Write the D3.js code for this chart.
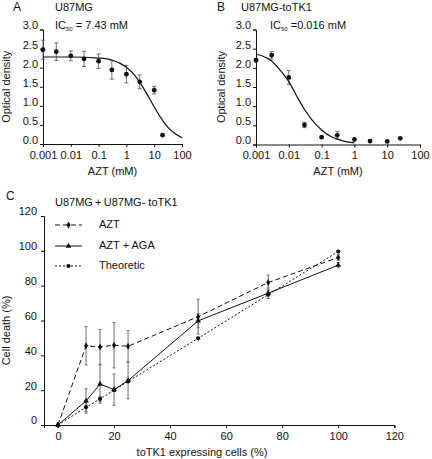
<!DOCTYPE html>
<html><head><meta charset="utf-8">
<script src="https://cdn.jsdelivr.net/npm/d3@7"></script>
<style>body{margin:0;background:#fff}svg{display:block;font-family:"Liberation Sans",Arial,sans-serif}</style>
</head><body><svg id="c" width="432" height="459"></svg>
<script>
// ---- Panel A data (U87MG) ----
const concA = [0.001, 0.003, 0.01, 0.03, 0.1, 0.3, 1, 3, 10, 20];
const odA = [2.47, 2.42, 2.31, 2.23, 2.17, 1.94, 1.83, 1.63, 1.41, 0.23];
const errA = [0.25, 0.23, 0.13, 0.2, 0.19, 0.24, 0.23, 0.18, 0.1, 0];
const fitXA = [0.001, 0.01, 0.1, 0.3, 1, 2, 3, 5, 7.43, 10, 20, 30, 50, 100];
const fitYA = [2.28, 2.28, 2.25, 2.2, 2.01, 1.8, 1.62, 1.36, 1.14, 0.97, 0.62, 0.45, 0.3, 0.16];
// ---- Panel B data (U87MG-toTK1) ----
const concB = [0.001, 0.003, 0.01, 0.03, 0.1, 0.3, 1, 3, 10, 25];
const odB = [2.2, 2.33, 1.75, 0.51, 0.19, 0.24, 0.13, 0.09, 0.08, 0.16];
const errB = [0.05, 0.1, 0.18, 0.07, 0, 0.1, 0, 0.04, 0, 0];
const fitXB = [0.001, 0.002, 0.003, 0.005, 0.01, 0.02, 0.03, 0.05, 0.1, 0.2, 0.3, 0.5, 1];
const fitYB = [2.36, 2.27, 2.18, 1.98, 1.64, 1.17, 0.92, 0.65, 0.38, 0.2, 0.14, 0.08, 0.04];
const logTickLabels = ["0.001", "0.01", "0.1", "1", "10", "100"];
const odTicks = [0, 0.5, 1, 1.5, 2, 2.5, 3];
// ---- Panel C data ----
const pctCells = [0, 10, 15, 20, 25, 50, 75, 100];
const deathAZT = [0, 45.5, 44.8, 45.8, 45.2, 62.2, 81.8, 96.2];
const errAZT = [0, 11, 10, 13, 9, 10, 4.3, 1.5];
const deathAGA = [0, 13.8, 23.5, 20.3, 25.5, 59.8, 75.7, 91.8];
const errAGA = [0, 7, 11, 9, 10.5, 4, 3, 1.5];
const deathTheo = [0, 10.2, 15, 20, 25, 49.8, 74.8, 99.6];
const errTheo = [0, 2.5, 1.5, 0, 0, 0, 0, 0];
const cXTicks = [0, 20, 40, 60, 80, 100, 120];
const cYTicks = [0, 20, 40, 60, 80, 100, 120];
const seriesNames = ["AZT", "AZT + AGA", "Theoretic"];

const svg = d3.select("#c");
const FS = 11;
const errCol = "#6e6e6e";

function text(x, y, t, opts = {}) {
  return svg.append("text").attr("x", x).attr("y", y).text(t)
    .attr("font-size", opts.size || FS).attr("fill", "#111")
    .attr("text-anchor", opts.anchor || "start")
    .attr("dominant-baseline", "middle");
}

function doseePanel(o) {
  const x = d3.scaleLog().domain([0.001, 100]).range([o.x0, o.x1]);
  const y = d3.scaleLinear().domain([0, 3]).range([o.y0, o.y1]);
  const g = svg.append("g");
  const xa = g.append("g").attr("transform", `translate(0,${o.y0})`)
    .call(d3.axisBottom(x).tickValues([0.001, 0.01, 0.1, 1, 10, 100])
      .tickFormat((d, i) => logTickLabels[i]).tickSizeOuter(0).tickSize(3).tickPadding(4));
  const ya = g.append("g").attr("transform", `translate(${o.x0},0)`)
    .call(d3.axisLeft(y).tickValues(odTicks).tickFormat(d3.format(".1f")).tickSizeOuter(0).tickSize(3).tickPadding(2));
  [xa, ya].forEach(a => {
    a.selectAll("text").attr("font-size", FS).attr("font-family", "Liberation Sans, Arial, sans-serif").attr("fill", "#111");
    a.select(".domain").attr("stroke", "#111");
    a.selectAll("line").attr("stroke", "#111");
  });
  ya.selectAll("text").attr("dy", "-0.05em");
  // error bars
  const eg = g.append("g").attr("stroke", errCol).attr("stroke-width", 1);
  o.conc.forEach((c, i) => {
    if (!o.err[i]) return;
    const cx = x(c), t = y(o.od[i] + o.err[i]), b = y(Math.max(0, o.od[i] - o.err[i]));
    eg.append("line").attr("x1", cx).attr("x2", cx).attr("y1", t).attr("y2", b);
    eg.append("line").attr("x1", cx - 2).attr("x2", cx + 2).attr("y1", t).attr("y2", t);
    eg.append("line").attr("x1", cx - 2).attr("x2", cx + 2).attr("y1", b).attr("y2", b);
  });
  // fitted curve
  g.append("path").datum(o.fx.map((v, i) => [v, o.fy[i]]))
    .attr("d", d3.line().x(d => x(d[0])).y(d => y(d[1])).curve(d3.curveMonotoneX))
    .attr("fill", "none").attr("stroke", "#111").attr("stroke-width", 1.2);
  g.selectAll("circle.pt").data(o.conc).join("circle")
    .attr("cx", d => x(d)).attr("cy", (d, i) => y(o.od[i])).attr("r", 2.4).attr("fill", "#111");
  // labels
  text(o.letterX, 8, o.letter, { size: 12 });
  text(o.titleX, 8, o.title);
  const ic = svg.append("text").attr("x", o.icX).attr("y", 26).attr("font-size", FS).attr("fill", "#111")
    .attr("dominant-baseline", "middle");
  ic.append("tspan").text("IC");
  ic.append("tspan").text("50").attr("font-size", 6).attr("dy", 3);
  ic.append("tspan").text(o.ic).attr("dy", -3);
  text((o.x0 + o.x1) / 2, 172, "AZT (mM)", { anchor: "middle" });
  svg.append("text").attr("transform", `translate(${o.ylabX},${(o.y0 + o.y1) / 2}) rotate(-90)`)
    .attr("text-anchor", "middle").attr("dominant-baseline", "middle").attr("font-size", FS).attr("fill", "#111")
    .text("Optical density");
}

doseePanel({ x0: 43, x1: 182, y0: 144, y1: 29.5, conc: concA, od: odA, err: errA, fx: fitXA, fy: fitYA,
  letter: "A", letterX: 13, title: "U87MG", titleX: 55, icX: 55, ic: " = 7.43 mM", ylabX: 7 });
doseePanel({ x0: 256, x1: 420, y0: 144.5, y1: 29.5, conc: concB, od: odB, err: errB, fx: fitXB, fy: fitYB,
  letter: "B", letterX: 217, title: "U87MG-toTK1", titleX: 241, icX: 270, ic: " =0.016 mM", ylabX: 222 });

// ---- Panel C ----
const xC = d3.scaleLinear().domain([-5, 120]).range([44, 394.3]);
const yC = d3.scaleLinear().domain([0, 120]).range([425, 216]);
const gc = svg.append("g");
const xac = gc.append("g").attr("transform", `translate(0,${yC(0)})`)
  .call(d3.axisBottom(xC).tickValues(cXTicks).tickSizeOuter(0).tickSize(3).tickPadding(4));
const yac = gc.append("g").attr("transform", `translate(${xC(-5)},0)`)
  .call(d3.axisLeft(yC).tickValues(cYTicks).tickSizeOuter(0).tickSize(3).tickPadding(4));
[xac, yac].forEach(a => {
  a.selectAll("text").attr("font-size", FS).attr("font-family", "Liberation Sans, Arial, sans-serif").attr("fill", "#111");
  a.select(".domain").attr("stroke", "#111");
  a.selectAll("line").attr("stroke", "#111");
});
yac.selectAll("text").attr("dy", "-0.1em");

const series = [
  { vals: deathAZT, err: errAZT, dash: "5,3", mark: d3.symbolDiamond, size: 14 },
  { vals: deathAGA, err: errAGA, dash: null, mark: d3.symbolTriangle, size: 14 },
  { vals: deathTheo, err: errTheo, dash: "2,2", mark: d3.symbolCircle, size: 14 }
];
const ebg = gc.append("g").attr("stroke", errCol).attr("stroke-width", 1);
series.forEach(s => {
  pctCells.forEach((p, i) => {
    if (!s.err[i]) return;
    const cx = xC(p), t = yC(s.vals[i] + s.err[i]), b = yC(s.vals[i] - s.err[i]);
    ebg.append("line").attr("x1", cx).attr("x2", cx).attr("y1", t).attr("y2", b);
    ebg.append("line").attr("x1", cx - 1.5).attr("x2", cx + 1.5).attr("y1", t).attr("y2", t);
    ebg.append("line").attr("x1", cx - 1.5).attr("x2", cx + 1.5).attr("y1", b).attr("y2", b);
  });
});
series.forEach(s => {
  gc.append("path").datum(pctCells.map((p, i) => [p, s.vals[i]]))
    .attr("d", d3.line().x(d => xC(d[0])).y(d => yC(d[1])))
    .attr("fill", "none").attr("stroke", "#111").attr("stroke-width", 1)
    .attr("stroke-dasharray", s.dash);
  gc.selectAll(null).data(pctCells).join("path")
    .attr("transform", (d, i) => `translate(${xC(d)},${yC(s.vals[i])})`)
    .attr("d", d3.symbol().type(s.mark).size(s.size)).attr("fill", "#111");
});
// legend
const legY = [225, 246, 266];
series.forEach((s, i) => {
  gc.append("line").attr("x1", 55).attr("x2", 82).attr("y1", legY[i]).attr("y2", legY[i])
    .attr("stroke", "#111").attr("stroke-width", 1).attr("stroke-dasharray", s.dash);
  gc.append("path").attr("transform", `translate(68.5,${legY[i]})`)
    .attr("d", d3.symbol().type(s.mark).size(s.size)).attr("fill", "#111");
  text(99, legY[i], seriesNames[i]);
});
text(6, 197, "C", { size: 12 });
text(55, 203, "U87MG\u2009+\u2009U87MG- toTK1");
text(202, 453, "toTK1 expressing cells (%)", { anchor: "middle" });
svg.append("text").attr("transform", `translate(7,${(yC(0) + yC(120)) / 2 + 10}) rotate(-90)`)
  .attr("text-anchor", "middle").attr("dominant-baseline", "middle").attr("font-size", FS).attr("fill", "#111")
  .text("Cell death (%)");
</script></body></html>
